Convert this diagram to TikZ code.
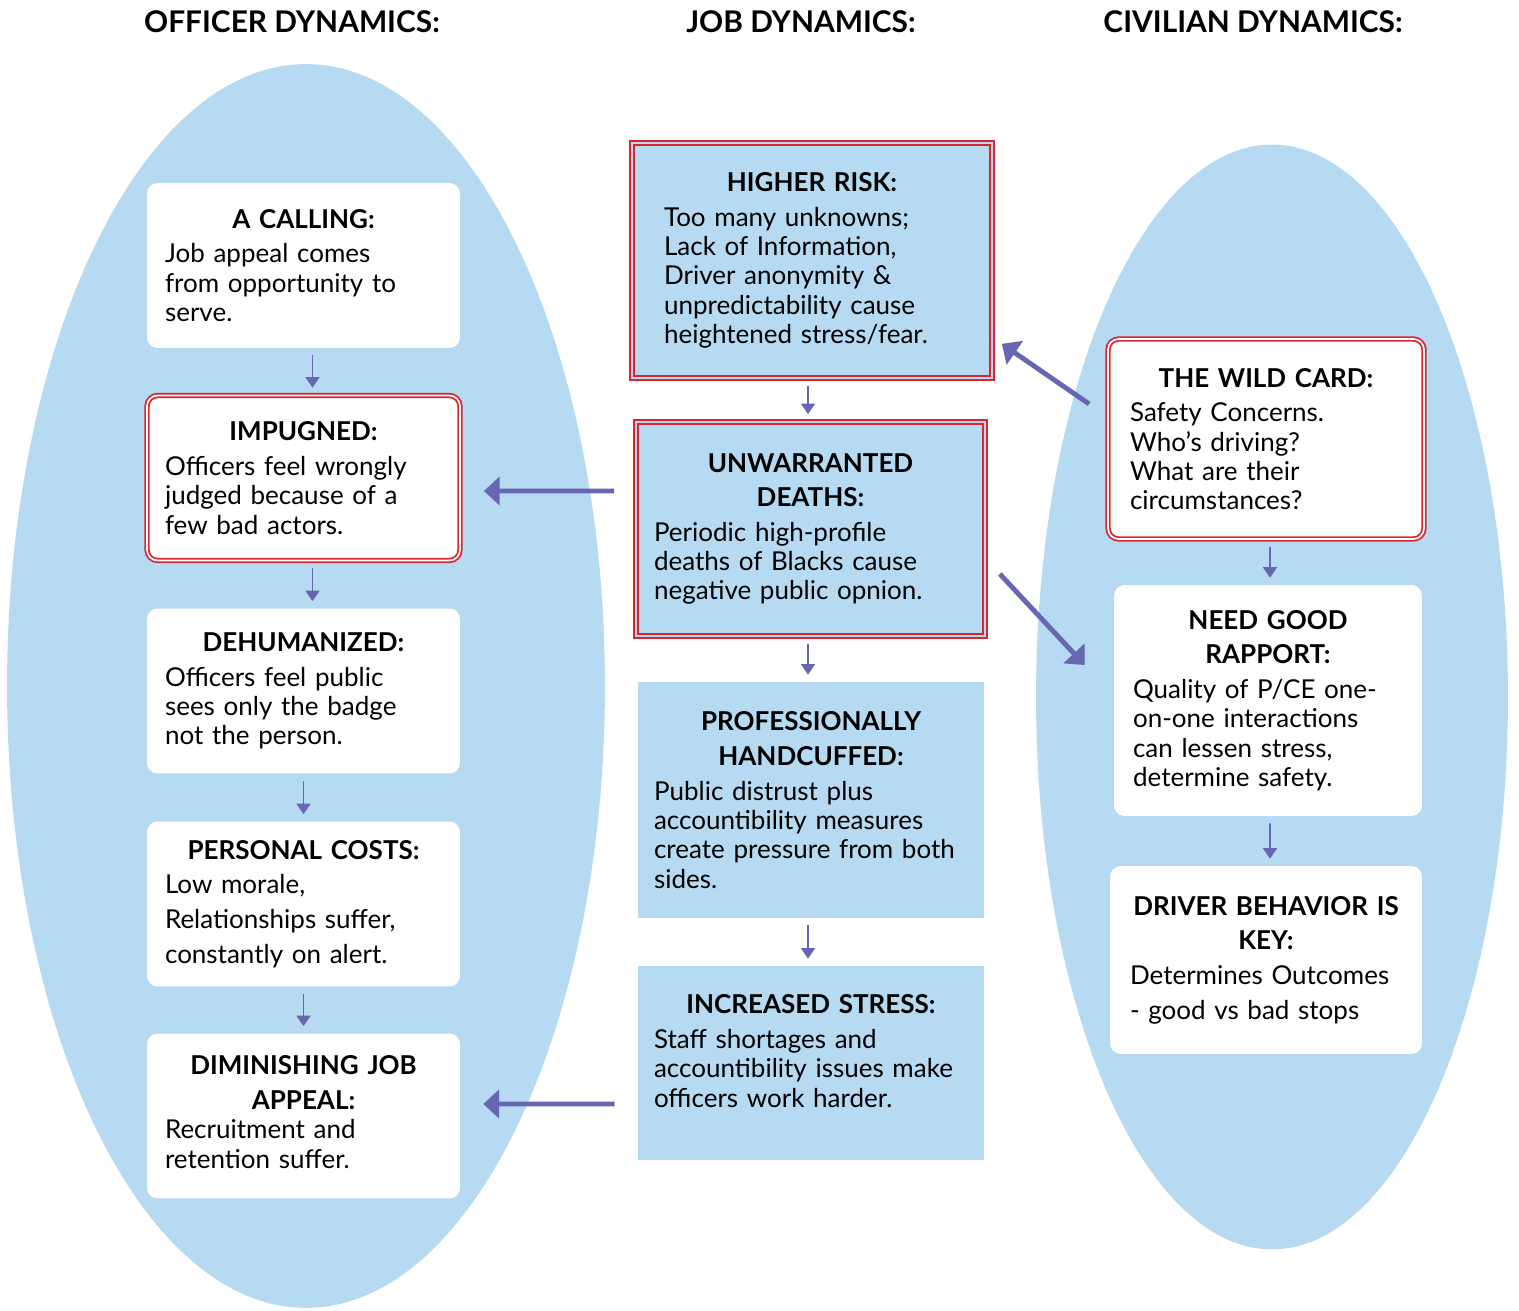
\documentclass[tikz,border=0pt]{standalone}
\usepackage{fontspec}
\setmainfont{Lato}
\usetikzlibrary{arrows.meta, positioning, shapes.geometric}
\definecolor{ovalBlue} {RGB}{182,218,241}
\definecolor{flowArrow}{RGB}{102,102,178}
\definecolor{alertRed} {RGB}{218, 37, 47}

\newcommand{\ttl}[1]{\makebox[\linewidth][c]{\bfseries #1}}

\begin{document}
\begin{tikzpicture}[
  x=0.02cm, y=-0.02cm,
  body/.style={font=\fontsize{14.8}{16.7}\selectfont, align=left,
    inner sep=0pt, text=black},
  obox/.style={body, rectangle, rounded corners=6pt, fill=white,
    minimum width=6.26cm, minimum height=3.3cm, text width=5.54cm},
  jbox/.style={body, rectangle, fill=ovalBlue},
  redline/.style={draw=alertRed, line width=1pt, double=#1,
    double distance=1pt},
  head/.style={font=\fontsize{17}{19}\selectfont\bfseries},
  step arr/.style={-{Triangle[length=6pt,width=8pt]}, line width=1pt,
    color=flowArrow, shorten <=4pt, shorten >=4pt},
  big arr/.style={-{Triangle[length=9pt,width=16pt]}, line width=2.8pt,
    color=flowArrow},
]
\useasboundingbox (0,0) rectangle (1519,1311);

%% ── Background ovals ─────────────────────────────────────────────────────────
\node[ellipse, fill=ovalBlue, minimum width=11.96cm, minimum height=24.88cm,
      inner sep=0pt] (OFFOVAL) at (306,686) {};
\node[ellipse, fill=ovalBlue, minimum width=9.44cm, minimum height=22.1cm,
      inner sep=0pt] (CIVOVAL) at (1272,697) {};

%% ── Column headings ──────────────────────────────────────────────────────────
\node[head] (HOFF) at (292,22)  {OFFICER DYNAMICS:};
\node[head] (HJOB) at (801,22)  {JOB DYNAMICS:};
\node[head] (HCIV) at (1253,22) {CIVILIAN DYNAMICS:};

%% ── Officer dynamics ─────────────────────────────────────────────────────────
\node[obox] (CALL) at (303.5,265.5)
  {\ttl{A CALLING:}\\[3pt]
   Job appeal comes\\ from opportunity to\\ serve.};

\node[obox, redline=white] (IMP) at (303.5,478)
  {\ttl{IMPUGNED:}\\[3pt]
   Officers feel wrongly\\ judged because of a\\ few bad actors.};

\node[obox] (DEH) at (303.5,691)
  {\ttl{DEHUMANIZED:}\\[3pt]
   Officers feel public\\ sees only the badge\\ not the person.};

\node[obox] (COST) at (303.5,904)
  {\ttl{PERSONAL COSTS:}\\[3pt]
   Low morale,\\[3pt] Relationships suffer,\\[3pt] constantly on alert.};

\node[obox] (DIM) at (303.5,1116)
  {\ttl{DIMINISHING JOB}\\[3pt]\ttl{APPEAL:}\\
   Recruitment and\\ retention suffer.\\[-12pt]\mbox{}};

\draw[step arr] ([xshift=0.18cm]CALL.south) -- ([xshift=0.18cm]IMP.north);
\draw[step arr] ([xshift=0.18cm]IMP.south)  -- ([xshift=0.18cm]DEH.north);
\draw[step arr] (DEH.south)  -- (COST.north);
\draw[step arr] (COST.south) -- (DIM.north);

%% ── Job dynamics ─────────────────────────────────────────────────────────────
\node[jbox, redline=ovalBlue, minimum width=7.2cm, minimum height=4.7cm,
      text width=5.92cm] (RISK) at (812,260.5)
  {\ttl{HIGHER RISK:}\\[3pt]
   Too many unknowns;\\ Lack of Information,\\ Driver anonymity \&\\
   unpredictability cause\\ heightened stress/fear.};

\node[jbox, redline=ovalBlue, minimum width=6.98cm, minimum height=4.28cm,
      text width=6.26cm] (DEATH) at (810.5,529)
  {\ttl{UNWARRANTED}\\[3pt]\ttl{DEATHS:}\\[3pt]
   Periodic high-profile\\ deaths of Blacks cause\\ negative public opnion.};

\node[jbox, minimum width=6.92cm, minimum height=4.72cm,
      text width=6.28cm] (CUFF) at (811,800)
  {\ttl{PROFESSIONALLY}\\[3pt]\ttl{HANDCUFFED:}\\[3pt]
   Public distrust plus\\ accountibility measures\\ create pressure from both\\ sides.};

\node[jbox, minimum width=6.92cm, minimum height=3.88cm,
      text width=6.28cm] (STRESS) at (811,1063)
  {\ttl{INCREASED STRESS:}\\[3pt]
   Staff shortages and\\ accountibility issues make\\ officers work harder.\\[-3pt]\mbox{}};

\draw[step arr] ([xshift=-0.08cm]RISK.south)  -- ([xshift=-0.05cm]DEATH.north);
\draw[step arr] ([xshift=-0.05cm]DEATH.south) -- ([xshift=-0.06cm]CUFF.north);
\draw[step arr] ([xshift=-0.06cm]CUFF.south)  -- ([xshift=-0.06cm]STRESS.north);

%% ── Civilian dynamics ────────────────────────────────────────────────────────
\node[obox, redline=white, minimum width=6.32cm, minimum height=4.0cm,
      text width=5.44cm] (WILD) at (1266,439)
  {\ttl{THE WILD CARD:}\\[3pt]
   Safety Concerns.\\ Who’s driving?\\ What are their\\ circumstances?};

\node[obox, minimum width=6.16cm, minimum height=4.62cm,
      text width=5.4cm] (RAPP) at (1268,700.5)
  {\ttl{NEED GOOD}\\[3pt]\ttl{RAPPORT:}\\[3pt]
   Quality of P/CE one-\\ on-one interactions\\ can lessen stress,\\ determine safety.};

\node[obox, minimum width=6.24cm, minimum height=3.76cm,
      text width=5.44cm] (DRIVE) at (1266,960)
  {\ttl{DRIVER BEHAVIOR IS}\\[3pt]\ttl{KEY:}\\[3pt]
   Determines Outcomes\\[3pt] - good vs bad stops};

\draw[step arr] ([xshift=0.08cm]WILD.south) -- ([xshift=0.04cm]RAPP.north);
\draw[step arr] ([xshift=0.04cm]RAPP.south) -- ([xshift=0.08cm]DRIVE.north);

%% ── Cross-column links ───────────────────────────────────────────────────────
\draw[big arr] ([xshift=-0.42cm,yshift=0.76cm]DEATH.west)
  -- ([xshift=0.46cm,yshift=-0.26cm]IMP.east);
\draw[big arr] ([xshift=-0.46cm,yshift=-0.82cm]STRESS.west)
  -- ([xshift=0.46cm,yshift=0.24cm]DIM.east);
\draw[big arr] ([xshift=-0.36cm,yshift=0.7cm]WILD.west)
  -- ([xshift=0.18cm,yshift=0.7cm]RISK.south east);
\draw[big arr] ([xshift=0.28cm,yshift=-0.9cm]DEATH.east)
  -- ([xshift=-0.58cm,yshift=0.71cm]RAPP.west);

\end{tikzpicture}
\end{document}
